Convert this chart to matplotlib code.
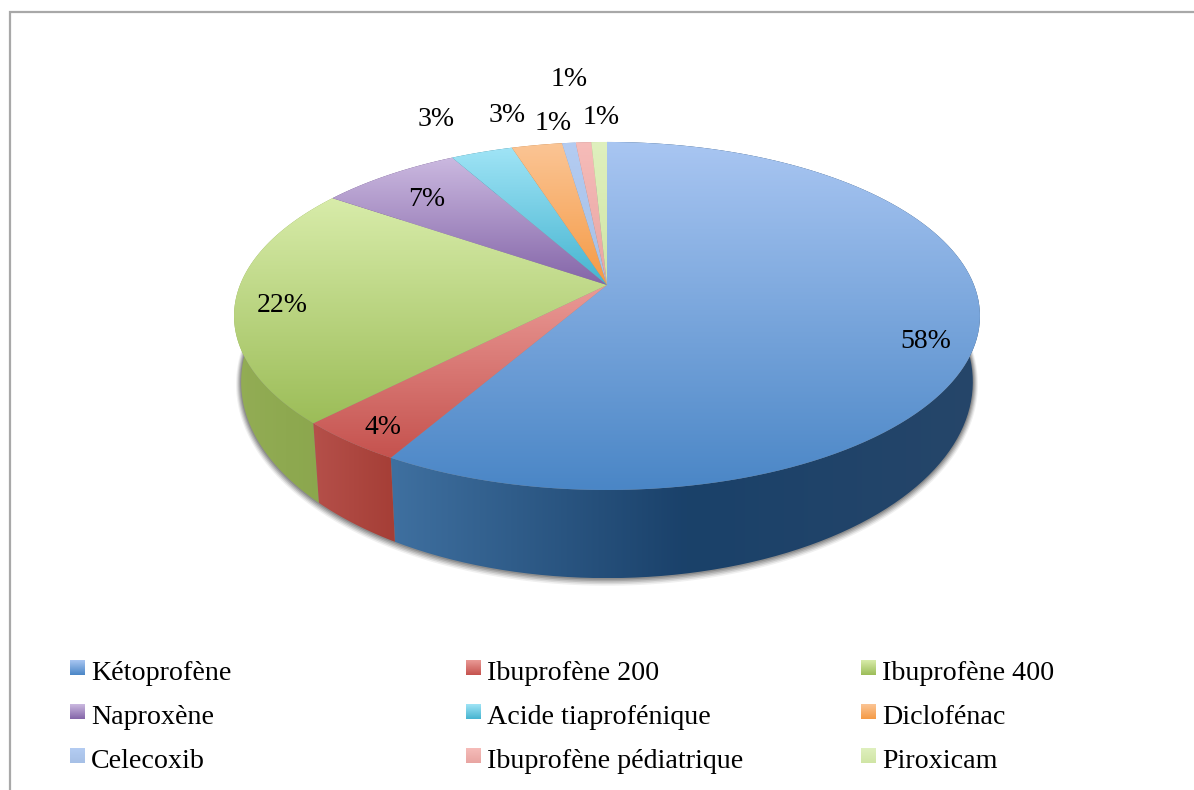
import numpy as np
import matplotlib
matplotlib.use('Agg')
import matplotlib.pyplot as plt
from matplotlib.colors import LinearSegmentedColormap
from matplotlib.patches import Polygon

plt.rcParams['font.family'] = ['Liberation Serif', 'DejaVu Serif']

names = ['Kétoprofène', 'Ibuprofène 200', 'Ibuprofène 400',
         'Naproxène', 'Acide tiaprofénique', 'Diclofénac',
         'Celecoxib', 'Ibuprofène pédiatrique', 'Piroxicam']
values = [58.3, 4.0, 22.3, 7.3, 3.2, 2.6, 0.7, 0.8, 0.8]

# top and bottom colour of each slice face, then the side colours left to right
top_light = ['#a9c6f2', '#ea9a96', '#d8ecaa', '#cbb9e0', '#a0e4f6', '#fbc595', '#b4ccf2', '#f6bcb9', '#dff0be']
top_dark = ['#4a86c6', '#c5524e', '#9cbd58', '#8465a8', '#45b4d0', '#f59a45', '#a6c0e6', '#e8a5a2', '#d0e5a5']
side_a = ['#3f70a0', '#b5504a', '#93ad55', '#6a5088', '#358a9f', '#c57a35', '#8ea4c8', '#c08a88', '#a8bd80']
side_b = ['#1a416a', '#ad4740', '#8ea950', '#624880', '#328297', '#ba7230', '#879cc0', '#b88280', '#a0b578']
side_c = ['#264669', '#a53e36', '#8aa64c', '#5a4078', '#2f7a8f', '#b06a2a', '#8094b8', '#b07a78', '#98ad70']

label_pos = [(926, 341), (383, 427), (282, 305), (427, 199), (436, 119),
             (507, 115), (553, 123), (569, 79), (601, 118)]
legend_x = [70, 466, 861]
legend_y = [668, 712, 756]

# perspective of the disc
cx, cy, rx, ry, k = 607, 285, 367, 168.5, 0.178
base_cy, base_rx, base_ry = 347, 360, 190


def ring(t, center_y, radius_x, radius_y):
    w = 1 + k * np.cos(t)
    return np.column_stack([cx + radius_x * np.sin(t) / w,
                            center_y - radius_y * np.cos(t) / w])


def gradient_fill(ax, poly, colors, horizontal=False, zorder=2):
    (x0, y0), (x1, y1) = poly.min(axis=0), poly.max(axis=0)
    cmap = LinearSegmentedColormap.from_list('g', colors)
    ramp = np.linspace(0, 1, 256)
    ramp = ramp[None, :] if horizontal else ramp[:, None]
    patch = Polygon(poly, closed=True, fc='none', ec='none', transform=ax.transData)
    ax.add_patch(patch)
    im = ax.imshow(ramp, cmap=cmap, extent=(x0, x1, y1, y0), aspect='auto',
                   vmin=0, vmax=1, zorder=zorder, interpolation='bilinear')
    im.set_clip_path(patch)


fig = plt.figure(figsize=(11.94, 7.90), dpi=100)
ax = fig.add_axes([0, 0, 1, 1])

# soft shadow under the disc
all_t = np.linspace(0, 2 * np.pi, 400)
for grow, alpha in zip([5, 4, 3, 2, 1], [0.08, 0.12, 0.16, 0.2, 0.25]):
    shadow = ring(all_t, base_cy + grow * 0.3, base_rx + grow, base_ry + grow)
    ax.add_patch(Polygon(shadow, closed=True, fc='#404040', ec='none', alpha=alpha, zorder=1))

edges = np.radians(np.cumsum([0] + values) / sum(values) * 360)
slices = list(zip(edges[:-1], edges[1:]))

# sides first, back to front
order = sorted(range(len(values)), key=lambda i: -np.cos(sum(slices[i]) / 2))
for i in order:
    t = np.linspace(slices[i][0], slices[i][1], 120)
    side = np.vstack([ring(t, cy, rx, ry), ring(t, base_cy, base_rx, base_ry)[::-1]])
    gradient_fill(ax, side, [side_a[i], side_b[i], side_c[i]], horizontal=True,
                  zorder=2 + order.index(i) * 0.01)

# top faces
for i, (t0, t1) in enumerate(slices):
    t = np.linspace(t0, t1, 200)
    face = np.vstack([[(cx, cy)], ring(t, cy, rx, ry)])
    gradient_fill(ax, face, [top_light[i], top_dark[i]], zorder=3)

for v, (x, y) in zip(values, label_pos):
    ax.text(x, y, f'{round(v)}%', ha='center', va='center', fontsize=20, color='black', zorder=5)

# legend
for i, name in enumerate(names):
    x = legend_x[i % 3]
    y = legend_y[i // 3]
    swatch = np.array([(x, y - 8), (x + 15, y - 8), (x + 15, y + 7), (x, y + 7)], dtype=float)
    gradient_fill(ax, swatch, [top_light[i], top_dark[i]], zorder=4)
    ax.text(x + 21, y + 5, name, ha='left', va='center', fontsize=20.2, color='black', zorder=5)

# chart frame, only its left and top edges are in the picture
ax.plot([9.5, 9.5, 1194], [790, 12, 12], color='#a8a8a8', lw=1.6, zorder=6, solid_joinstyle='miter')

ax.set_xlim(0, 1194)
ax.set_ylim(790, 0)
ax.axis('off')
fig.savefig('out.png', dpi=100)
